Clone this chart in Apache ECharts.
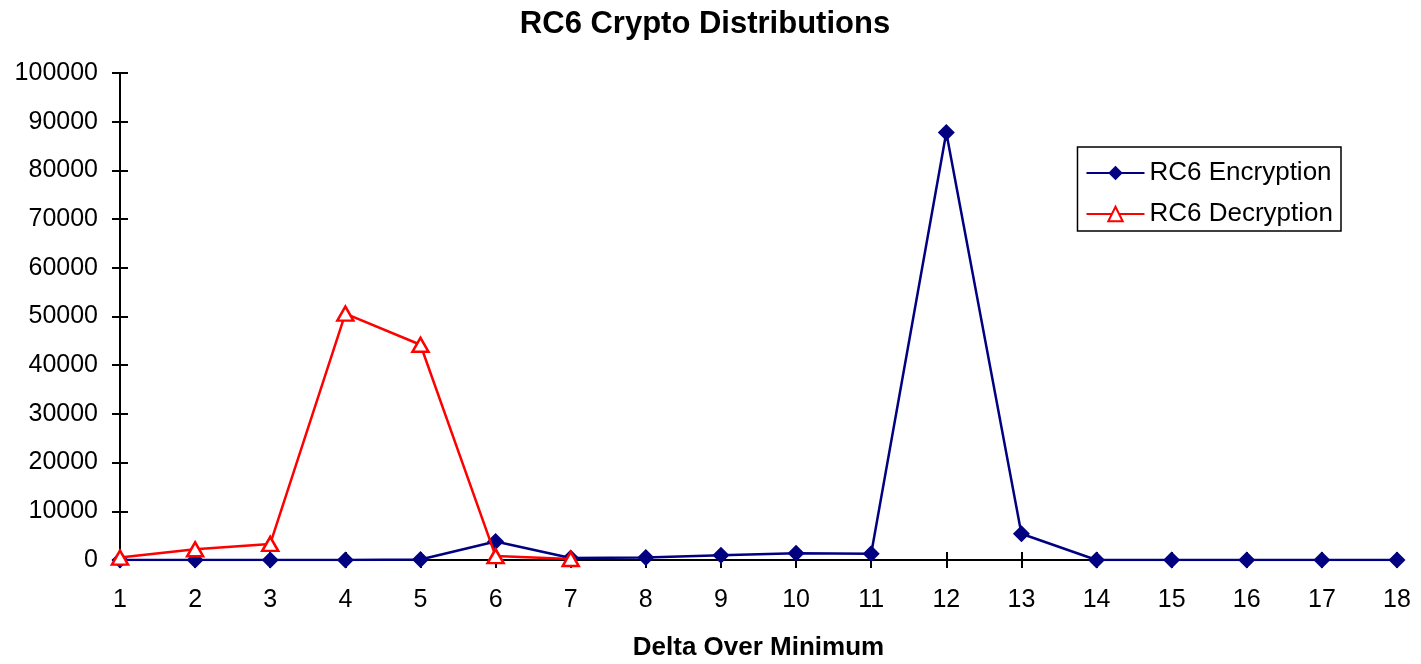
<!DOCTYPE html>
<html><head><meta charset="utf-8">
<script src="https://cdn.jsdelivr.net/npm/echarts@6/dist/echarts.min.js"></script>
<style>html,body{margin:0;padding:0;background:#fff}#c{width:1421px;height:664px}</style>
</head><body><div id="c"></div>
<script>
const categories = ['1','2','3','4','5','6','7','8','9','10','11','12','13','14','15','16','17','18'];
const encryption = [0,0,0,0,100,3800,400,500,1000,1400,1300,87800,5400,0,0,0,0,0];
const decryption = [500,2200,3300,50600,44200,800,200];
const yTicks = [0,10000,20000,30000,40000,50000,60000,70000,80000,90000,100000];

const F = '"Liberation Sans", Arial, sans-serif';
const chart = echarts.init(document.getElementById('c'), null, {renderer:'canvas'});
const grid = {left:120, right:24, top:73, bottom:104, containLabel:false, outerBoundsMode:'none'};
chart.setOption({
  animation:false,
  backgroundColor:'#fff',
  title:{text:'RC6 Crypto Distributions', left:700, top:4, textAlign:'center',
    textStyle:{fontFamily:F, fontSize:31, fontWeight:'bold', color:'#000'}},
  legend:{right:80, top:147, orient:'vertical', itemWidth:58, itemHeight:18, itemGap:15,
    padding:[13,8,4,8], borderColor:'#000', borderWidth:1.5,
    textStyle:{fontFamily:F, fontSize:26, color:'#000'}, data:['RC6 Encryption','RC6 Decryption']},
  grid:grid,
  xAxis:[{type:'category', data:categories, boundaryGap:false,
    axisLine:{lineStyle:{color:'#000', width:2}},
    axisTick:{length:8, lineStyle:{color:'#000', width:2}},
    axisLabel:{fontFamily:F, fontSize:25, color:'#000', margin:28},
    name:'Delta Over Minimum', nameLocation:'middle', nameGap:75,
    nameTextStyle:{fontFamily:F, fontSize:26, fontWeight:'bold', color:'#000'}},
    {type:'category', data:categories, boundaryGap:false, position:'bottom',
    axisLine:{show:false}, axisTick:{inside:true, length:8, lineStyle:{color:'#000', width:2}},
    axisLabel:{show:false}}],
  yAxis:[{type:'value', min:yTicks[0], max:yTicks[yTicks.length-1], interval:yTicks[1]-yTicks[0],
    axisLine:{show:true, lineStyle:{color:'#000', width:2}},
    axisTick:{show:true, length:8, lineStyle:{color:'#000', width:2}},
    splitLine:{show:false},
    axisLabel:{fontFamily:F, fontSize:25, color:'#000', margin:22, formatter:v=>String(v)}},
    {type:'value', min:yTicks[0], max:yTicks[yTicks.length-1], interval:yTicks[1]-yTicks[0], position:'left',
    axisLine:{show:false}, axisTick:{show:true, inside:true, length:8, lineStyle:{color:'#000', width:2}},
    splitLine:{show:false}, axisLabel:{show:false}}],
  series:[
    {name:'RC6 Encryption', type:'line', data:encryption, symbol:'diamond', symbolSize:[17,17],
      lineStyle:{color:'#000080', width:2.5}, itemStyle:{color:'#000080'}, z:2},
    {name:'RC6 Decryption', type:'line', data:decryption, symbol:'triangle', symbolSize:[16,14],
      lineStyle:{color:'#ff0000', width:2.5}, itemStyle:{color:'#fff', borderColor:'#ff0000', borderWidth:2.5}, z:3}
  ]
});
</script></body></html>
